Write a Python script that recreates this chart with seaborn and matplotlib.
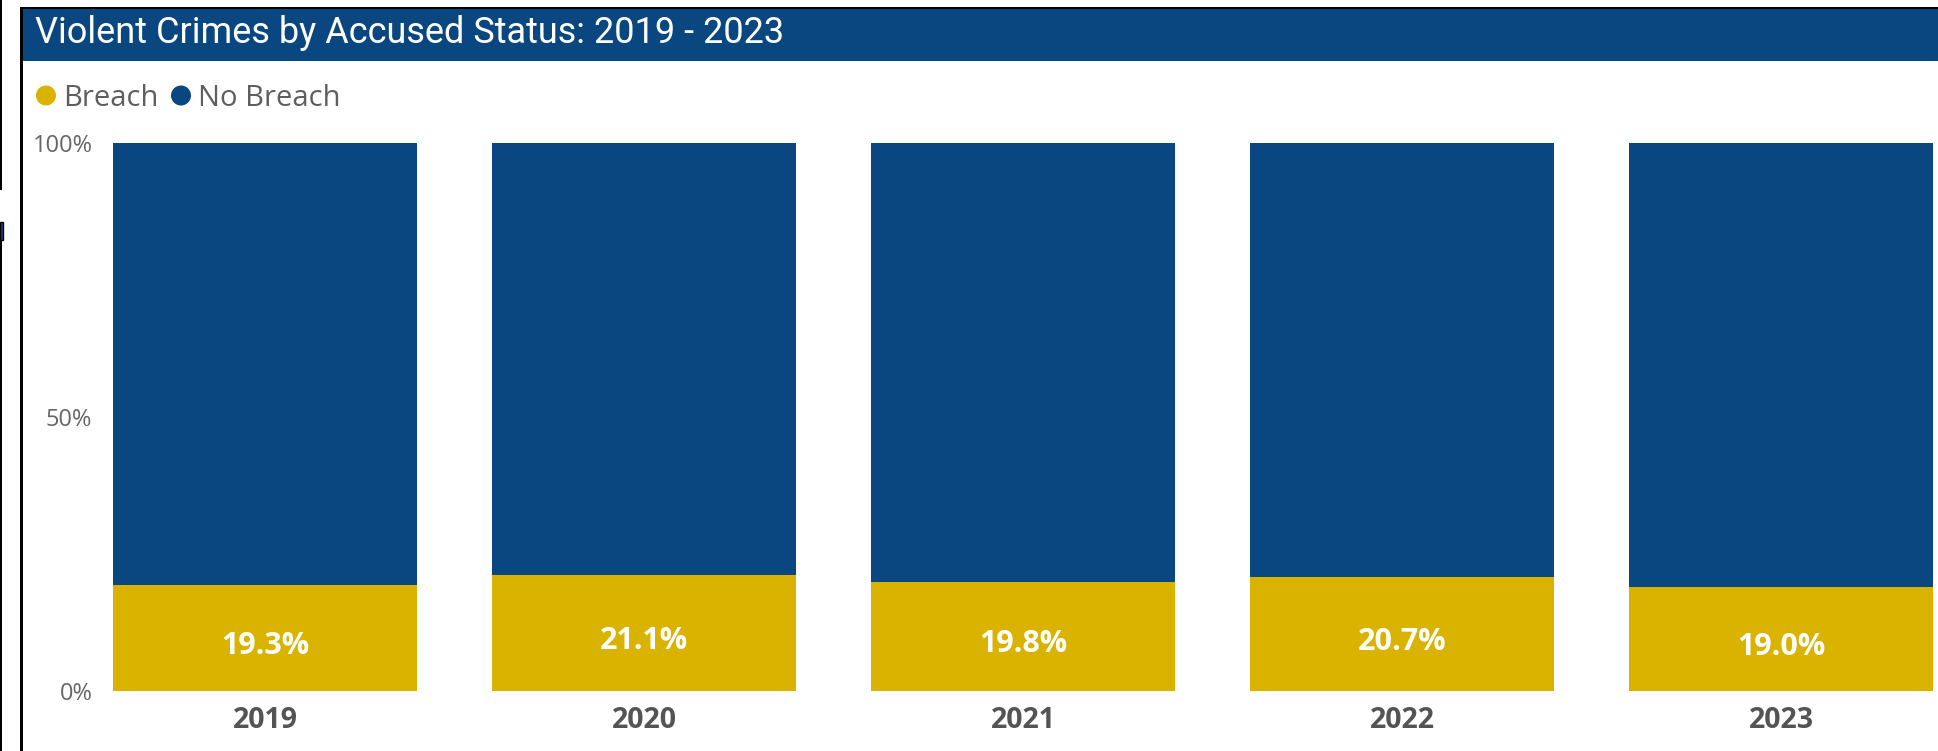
import matplotlib
matplotlib.use('Agg')
import matplotlib.pyplot as plt
from matplotlib.patches import Rectangle, Ellipse
import seaborn as sns
import pandas as pd

# data
years = ['2019', '2020', '2021', '2022', '2023']
breach = [19.3, 21.1, 19.8, 20.7, 19.0]
no_breach = [80.7, 78.9, 80.2, 79.3, 81.0]
y_ticks = [0, 50, 100]
y_tick_labels = ['0%', '50%', '100%']
legend_labels = ['Breach', 'No Breach']
title = 'Violent Crimes by Accused Status: 2019 - 2023'

BLUE = '#0A4780'
YELLOW = '#DAB300'
GREY = '#605E5C'

sns.set_theme(style='white')
plt.rcParams['font.family'] = ['Open Sans', 'DejaVu Sans']

W, H = 1938, 751


def fx(px):
    return px / W


def fy(py):
    return 1 - py / H


df = pd.DataFrame({'year': years, 'breach': breach, 'no_breach': no_breach})
df['total'] = df['breach'] + df['no_breach']

fig = plt.figure(figsize=(W / 100, H / 100), dpi=100, facecolor='white')

# frame pieces and title bar
fig.add_artist(Rectangle((fx(20), fy(751)), fx(3), fy(7) - fy(751), transform=fig.transFigure,
                         color='black', lw=0))
fig.add_artist(Rectangle((fx(20), fy(9)), fx(1938) - fx(20), fy(7) - fy(9), transform=fig.transFigure,
                         color='black', lw=0))
fig.add_artist(Rectangle((fx(23), fy(61)), fx(1938) - fx(23), fy(9) - fy(61), transform=fig.transFigure,
                         color=BLUE, lw=0))
# neighbouring panel edge on the far left
fig.add_artist(Rectangle((0, fy(190)), fx(2), fy(0) - fy(190), transform=fig.transFigure,
                         color='black', lw=0))
fig.add_artist(Rectangle((0, fy(240)), fx(3), fy(222) - fy(240), transform=fig.transFigure,
                         facecolor=BLUE, edgecolor='black', lw=1))
fig.add_artist(Rectangle((0, fy(751)), fx(2), fy(240) - fy(751), transform=fig.transFigure,
                         color='black', lw=0))

fig.text(fx(35), fy(43), title, color='white', fontsize=26, family=['Roboto', 'DejaVu Sans'],
         ha='left', va='baseline')

# legend
for lab, col, cx, tx in zip(legend_labels, [YELLOW, BLUE], [46, 181], [63, 198]):
    fig.add_artist(Ellipse((fx(cx), fy(95.5)), fx(20), 20 / H, transform=fig.transFigure,
                           color=col, lw=0))
    fig.text(fx(tx), fy(95.5), lab, color=GREY, fontsize=21, ha='left', va='center_baseline')

# plot area
ax = fig.add_axes([fx(100), fy(690.7), fx(1938) - fx(100), fy(143) - fy(690.7)])
sns.barplot(data=df, x='year', y='total', color=BLUE, width=0.802, saturation=1,
            linewidth=0, ax=ax)
sns.barplot(data=df, x='year', y='breach', color=YELLOW, width=0.802, saturation=1,
            linewidth=0, ax=ax)

for i, b in enumerate(df['breach']):
    ax.text(i, b / 2 - 0.8, f'{b:.1f}%', color='white', fontsize=22, fontweight='bold',
            ha='center', va='center_baseline')

ax.set_xlim((100 - 265) / 379, (1938 - 265) / 379)
ax.set_ylim(0, 100)
ax.set_yticks(y_ticks)
ax.set_yticklabels(y_tick_labels, fontsize=17, color='#666666')
ax.tick_params(axis='y', length=0, pad=5.5)
ax.tick_params(axis='x', length=0, pad=11)
for t in ax.get_xticklabels():
    t.set_fontsize(20.5)
    t.set_fontweight('bold')
    t.set_color('#545454')
ax.set_xlabel('')
ax.set_ylabel('')
ax.grid(False)
for s in ax.spines.values():
    s.set_visible(False)
ax.set_facecolor('white')

fig.savefig('out.png', dpi=100, facecolor='white')
